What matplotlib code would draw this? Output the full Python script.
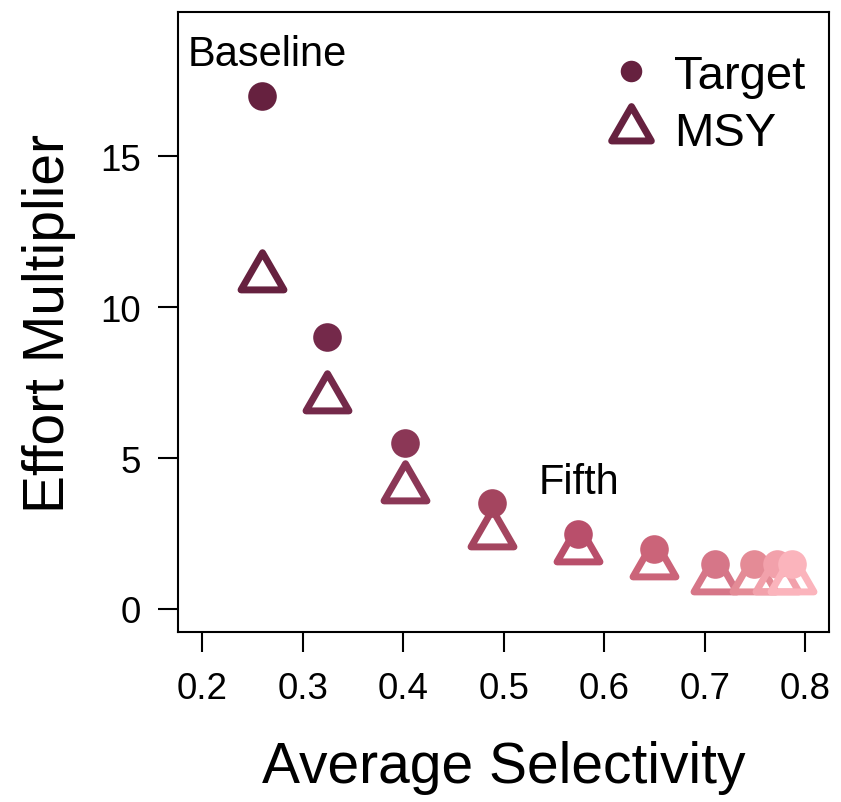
import matplotlib
matplotlib.use("Agg")
import matplotlib.pyplot as plt
from matplotlib.lines import Line2D
from matplotlib.markers import MarkerStyle
from matplotlib.path import Path

plt.rcParams["font.family"] = ["Liberation Sans", "DejaVu Sans"]

# Scenario results: average selectivity vs effort multiplier
selectivity = [0.260, 0.324, 0.402, 0.488, 0.574, 0.650, 0.710, 0.749, 0.772, 0.787]
target = [17, 9, 5.5, 3.5, 2.5, 2.0, 1.5, 1.5, 1.5, 1.5]
msy = [11, 7, 4, 2.5, 2.0, 1.5, 1.0, 1.0, 1.0, 1.0]
colors = ["#66213F", "#74294A", "#8B3756", "#A4455F", "#B94F6B",
          "#CB6479", "#D67688", "#E48B96", "#F2A1AB", "#FBB4BC"]
xticks = [0.2, 0.3, 0.4, 0.5, 0.6, 0.7, 0.8]
yticks = [0, 5, 10, 15]

# open triangle centred on its centroid (like R's pch = 2)
tri_path = Path([(0, 1.5551), (1.3468, -0.7776), (-1.3468, -0.7776), (0, 1.5551)],
                [Path.MOVETO, Path.LINETO, Path.LINETO, Path.CLOSEPOLY])
tri = MarkerStyle(tri_path, joinstyle="round")

fig = plt.figure(figsize=(8.41, 8.03), dpi=100)
ax = fig.add_axes([0.2117, 0.2118, 0.7744, 0.7714])

for i in range(len(selectivity)):
    ax.plot(selectivity[i], msy[i], linestyle="none", marker=tri, markersize=35.7,
            markerfacecolor="none", markeredgecolor=colors[i], markeredgewidth=5,
            zorder=2 + 2 * i)
    ax.plot(selectivity[i], target[i], linestyle="none", marker="o", markersize=20.6,
            markerfacecolor=colors[i], markeredgecolor="none", zorder=3 + 2 * i)

ax.annotate("Baseline", xy=(selectivity[0], target[0]), xytext=(3.6, 22.3),
            textcoords="offset points", ha="center", va="baseline", fontsize=30)
ax.annotate("Fifth", xy=(selectivity[4], target[4]), xytext=(0.7, 29.5),
            textcoords="offset points", ha="center", va="baseline", fontsize=30)

handles = [
    Line2D([], [], linestyle="none", marker="o", markersize=15.5,
           markerfacecolor=colors[0], markeredgecolor="none"),
    Line2D([], [], linestyle="none", marker=tri, markersize=33,
           markerfacecolor="none", markeredgecolor=colors[0], markeredgewidth=5),
]
ax.legend(handles, ["Target", "MSY"], loc="upper right", bbox_to_anchor=(0.963, 0.933),
          frameon=False, fontsize=34, handlelength=1.0, handletextpad=0.4,
          labelspacing=0.28, borderpad=0, borderaxespad=0)

ax.set_xlim(0.176, 0.824)
ax.set_ylim(-0.76, 19.76)
ax.set_xticks(xticks)
ax.set_xticklabels([f"{t:.1f}" for t in xticks])
ax.set_yticks(yticks)
ax.tick_params(direction="out", length=14.4, width=1.5, labelsize=26.5, pad=12)
ax.tick_params(axis="x", pad=14)
for s in ax.spines.values():
    s.set_linewidth(1.5)

ax.set_xlabel("Average Selectivity", fontsize=41, labelpad=24)
ax.set_ylabel("Effort Multiplier", fontsize=41, labelpad=18)

fig.savefig("out.png", dpi=100)
